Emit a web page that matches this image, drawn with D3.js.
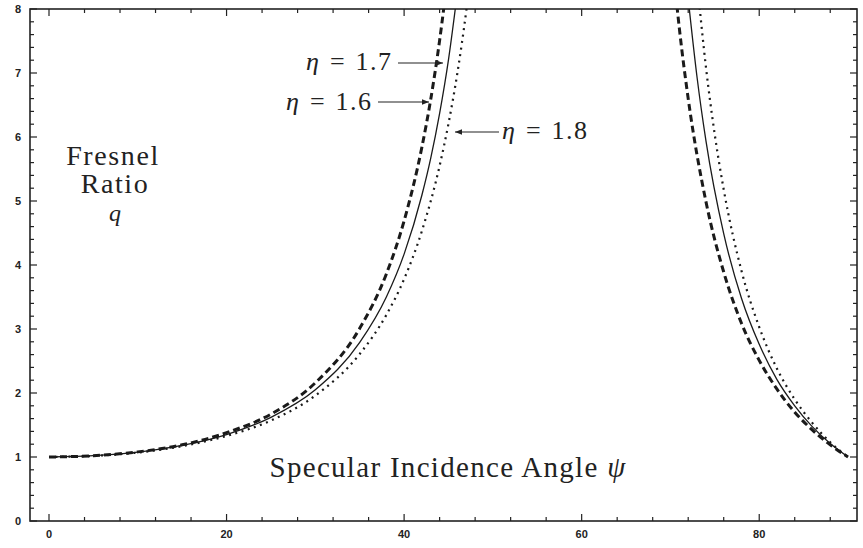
<!DOCTYPE html>
<html>
<head>
<meta charset="utf-8">
<script src="https://cdn.jsdelivr.net/npm/d3@7"></script>
<style>
  body { margin: 0; background: #fff; }
  svg { display: block; }
  .tick-lbl { font-family: "Liberation Sans", Arial, sans-serif; font-weight: bold; font-size: 11px; fill: #222; }
  .serif { font-family: "Liberation Serif", "Times New Roman", serif; fill: #222; }
</style>
</head>
<body>
<svg id="chart"></svg>
<script>
const W = 863, H = 548;

// Specular incidence angle (deg) vs Fresnel ratio q
// each curve is split into the branch left and right of the off-scale region
const eta16Left = [[0,1],[5,1.02],[10,1.08],[15,1.19],[20,1.38],[25,1.67],[30,2.16],[35,3.01],[38,3.86],[40,4.69],[42,5.84],[43,6.59],[44,7.51],[44.5,8.05],[45,8.66]];
const eta16Right = [[70,9.08],[71,7.70],[72,6.60],[74,4.99],[76,3.89],[78,3.09],[80,2.51],[82,2.06],[84,1.70],[86,1.42],[88,1.19],[90,1]];
const eta17Left = [[0,1],[5,1.02],[10,1.075],[15,1.18],[20,1.35],[25,1.62],[30,2.05],[35,2.79],[38,3.50],[40,4.17],[42,5.09],[43,5.67],[44,6.37],[45,7.21],[46,8.26]];
const eta17Right = [[72,8.16],[73,6.93],[74,5.94],[76,4.49],[78,3.48],[80,2.76],[82,2.21],[84,1.80],[86,1.47],[88,1.21],[90,1]];
const eta18Left = [[0,1],[5,1.017],[10,1.07],[15,1.17],[20,1.33],[25,1.57],[30,1.96],[35,2.61],[38,3.22],[40,3.78],[42,4.53],[44,5.55],[45,6.21],[46,7.00],[47,7.97],[48,9.17]];
const eta18Right = [[73,8.43],[74,7.09],[75,6.03],[76,5.18],[78,3.91],[80,3.03],[82,2.38],[84,1.90],[86,1.53],[88,1.23],[90,1]];

const xTicks = [0, 20, 40, 60, 80];
const yTicks = [0, 1, 2, 3, 4, 5, 6, 7, 8];

const svg = d3.select("#chart").attr("width", W).attr("height", H);

const x = d3.scaleLinear().domain([0, 90]).range([49, 848]);
const y = d3.scaleLinear().domain([0, 8]).range([521, 9]);

const boxL = x(x.invert(30)), boxR = x(x.invert(857)), boxT = y(8), boxB = y(0);

// frame
svg.append("rect")
  .attr("x", boxL).attr("y", boxT)
  .attr("width", boxR - boxL).attr("height", boxB - boxT)
  .attr("fill", "none").attr("stroke", "#222").attr("stroke-width", 1.6);

// inward ticks on all four sides
var xMinor = d3.range(0, 91, 4);
var yMinor = d3.range(0, 8.001, 0.2);

var tickGroup = svg.append("g").attr("stroke", "#222").attr("stroke-width", 1.2);
xMinor.forEach(v => {
  var len = xTicks.includes(v) ? 7 : 4;
  tickGroup.append("line").attr("x1", x(v)).attr("x2", x(v)).attr("y1", boxB).attr("y2", boxB - len);
  tickGroup.append("line").attr("x1", x(v)).attr("x2", x(v)).attr("y1", boxT).attr("y2", boxT + len);
});
yMinor.forEach(v => {
  var major = Math.abs(v - Math.round(v)) < 1e-6;
  var len = major ? 7 : 4;
  tickGroup.append("line").attr("y1", y(v)).attr("y2", y(v)).attr("x1", boxL).attr("x2", boxL + len);
  tickGroup.append("line").attr("y1", y(v)).attr("y2", y(v)).attr("x1", boxR).attr("x2", boxR - len);
});

svg.selectAll("text.xl")
  .data(xTicks)
  .enter()
  .append("text")
  .attr("class", "tick-lbl xl")
  .attr("x", d => x(d))
  .attr("y", boxB + 17)
  .attr("text-anchor", "middle")
  .text(d => d);

svg.selectAll("text.yl")
  .data(yTicks)
  .enter()
  .append("text")
  .attr("class", "tick-lbl yl")
  .attr("x", boxL - 9)
  .attr("y", d => y(d) + 4)
  .attr("text-anchor", "end")
  .text(d => d);

// curves, clipped to the plot box
svg.append("clipPath").attr("id", "plotclip")
  .append("rect").attr("x", boxL).attr("y", boxT).attr("width", boxR - boxL).attr("height", boxB - boxT);

var line = d3.line()
  .x(d => x(d[0]))
  .y(d => y(d[1]))
  .curve(d3.curveMonotoneX);

var curves = svg.append("g").attr("clip-path", "url(#plotclip)").attr("fill", "none").attr("stroke", "#1a1a1a");

var styles = [
  { parts: [eta16Left, eta16Right], width: 3, dash: "7,4" },
  { parts: [eta17Left, eta17Right], width: 1.3, dash: null },
  { parts: [eta18Left, eta18Right], width: 2.2, dash: "2,4.5" }
];
styles.forEach(s => {
  s.parts.forEach(p => {
    curves.append("path")
      .attr("d", line(p))
      .attr("stroke-width", s.width)
      .attr("stroke-dasharray", s.dash);
  });
});

// arrows + labels
svg.append("defs").append("marker")
  .attr("id", "head")
  .attr("viewBox", "0 0 10 10")
  .attr("refX", 10).attr("refY", 5)
  .attr("markerWidth", 9).attr("markerHeight", 7)
  .attr("markerUnits", "userSpaceOnUse")
  .attr("orient", "auto")
  .append("path").attr("d", "M0,1 L10,5 L0,9 Z").attr("fill", "#222");

var notes = [
  { text: "1.7", tx: 306, ty: 70, ax1: 398, ax2: 443, ay: 63 },
  { text: "1.6", tx: 286, ty: 110, ax1: 378, ax2: 429, ay: 102 },
  { text: "1.8", tx: 502, ty: 139, ax1: 499, ax2: 455, ay: 132 }
];
notes.forEach(n => {
  var t = svg.append("text")
    .attr("class", "serif")
    .attr("x", n.tx).attr("y", n.ty)
    .attr("font-size", 26);
  t.append("tspan").attr("font-style", "italic").text("η");
  t.append("tspan").attr("dx", 11).text("=");
  t.append("tspan").attr("dx", 11).attr("letter-spacing", 1.5).text(n.text);
  svg.append("line")
    .attr("x1", n.ax1).attr("x2", n.ax2).attr("y1", n.ay).attr("y2", n.ay)
    .attr("stroke", "#222").attr("stroke-width", 1.2)
    .attr("marker-end", "url(#head)");
});

// y axis title, stacked
var ytitle = svg.append("text").attr("class", "serif").attr("text-anchor", "middle").attr("font-size", 28);
ytitle.append("tspan").attr("x", 113).attr("y", 165).attr("letter-spacing", 1.6).text("Fresnel");
ytitle.append("tspan").attr("x", 115).attr("y", 193).attr("letter-spacing", 1.6).text("Ratio");
var qTitle = svg.append("text").attr("class", "serif").attr("text-anchor", "middle").attr("font-size", 24)
  .attr("font-style", "italic").attr("x", 115).attr("y", 221).text("q");

// x axis title
var xtitle = svg.append("text").attr("class", "serif")
  .attr("x", 448).attr("y", 477)
  .attr("text-anchor", "middle")
  .attr("font-size", 29)
  .attr("letter-spacing", 1.3);
xtitle.append("tspan").text("Specular Incidence Angle ");
xtitle.append("tspan").attr("font-style", "italic").text("ψ");
</script>
</body>
</html>
